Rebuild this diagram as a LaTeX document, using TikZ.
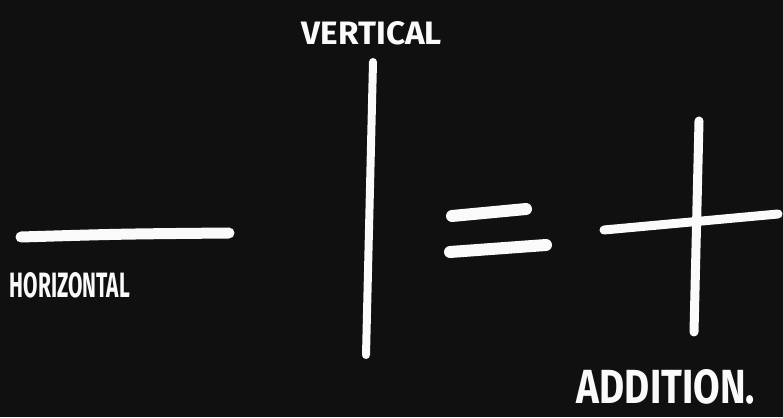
\documentclass[tikz,border=0pt]{standalone}
\usepackage{fontspec}
\usepackage{graphicx}
\setmainfont{Fira Sans}
\usepackage{tikz}
\usetikzlibrary{positioning, calc}

\definecolor{board}{RGB}{16,16,16}
\definecolor{chalk}{RGB}{250,250,250}

\begin{document}
\begin{tikzpicture}[
        x=1pt, y=1pt,
        stroke/.style={draw=chalk, line width=11pt, line cap=round},
        thin stroke/.style={draw=chalk, line width=8pt, line cap=round},
        label/.style={text=chalk, inner sep=0pt, font=\bfseries}
    ]
        \fill[board] (0,0) rectangle (783,417);
        \useasboundingbox (0,0) rectangle (783,417);

        % horizontal
        \coordinate (hleft) at (21,180);
        \coordinate (hright) at (229,184);
        \draw[stroke] (hleft) .. controls (120,183) .. (hright);
        \node[label] (horiz) at (70,132) {\resizebox{120pt}{25pt}{HORIZONTAL}};

        % vertical
        \coordinate (vtop) at (373,355);
        \coordinate (vbot) at (366,62);
        \draw[thin stroke] (vtop) -- (vbot);
        \node[label] (vert) at (372,384) {\resizebox{140pt}{23pt}{VERTICAL}};

        % equals
        \coordinate (eqa) at (452,201);
        \coordinate (eqb) at (526,208);
        \coordinate (eqc) at (450,165);
        \coordinate (eqd) at (546,172);
        \draw[stroke, line width=12pt] (eqa) -- (eqb);
        \draw[stroke, line width=12pt] (eqc) -- (eqd);

        % plus
        \coordinate (pleft) at (604,187);
        \coordinate (pright) at (778,203);
        \coordinate (ptop) at (699,296);
        \coordinate (pbot) at (694,85);
        \draw[stroke, line width=9pt] (pleft) -- (pright);
        \draw[stroke, line width=9pt] (ptop) -- (pbot);
        \node[label] (addition) at (666,30) {\resizebox{178pt}{34pt}{ADDITION.}};
    \end{tikzpicture}
\end{document}
